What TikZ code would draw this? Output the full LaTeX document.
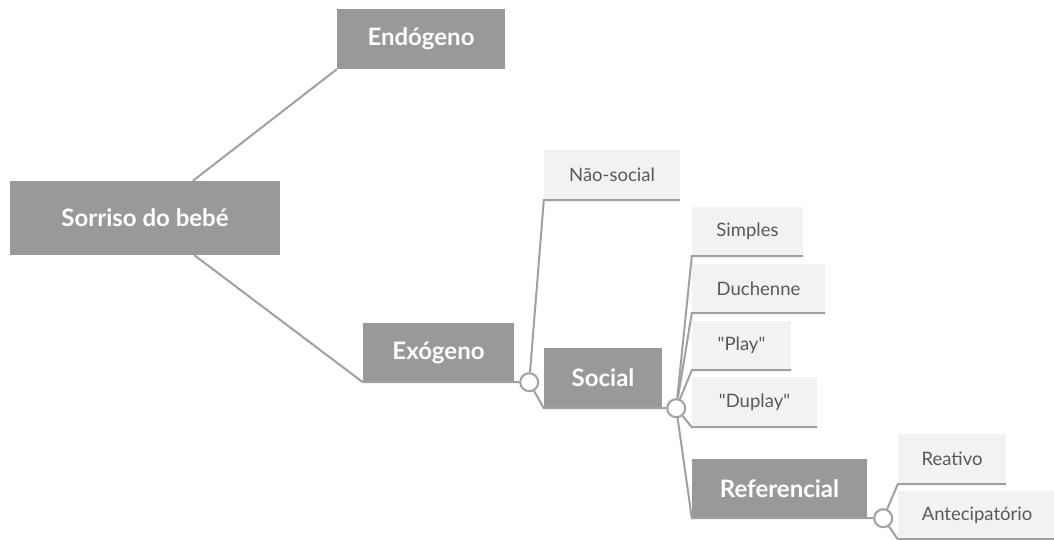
\documentclass[tikz,border=0pt]{standalone}
\usepackage{fontspec}
\setmainfont{Lato}
\usetikzlibrary{positioning}
\definecolor{boxgray}{HTML}{999999}
\definecolor{boxlight}{HTML}{F2F2F2}
\definecolor{linegray}{HTML}{A0A0A0}
\definecolor{textgray}{HTML}{595959}
\tikzset{
  darkbox/.style={fill=boxgray, text=white, inner sep=0pt, font=\fontsize{24}{28}\selectfont\bfseries},
  lightbox/.style={fill=boxlight, text=textgray, inner sep=0pt, font=\fontsize{18.5}{22}\selectfont},
  link/.style={draw=linegray, line width=2pt},
  hub/.style={circle, draw=linegray, fill=white, line width=2pt, inner sep=0pt, minimum size=18pt}
}

\begin{document}
\begin{tikzpicture}[x=1pt, y=-1pt]
      \useasboundingbox (0,0) rectangle (1054,539);

      \node[darkbox, minimum width=270pt, minimum height=74pt] (root) at (145,218) {Sorriso do bebé};
      \node[darkbox, minimum width=168pt, minimum height=60pt] (endo) at (421,39) {Endógeno};
      \node[darkbox, minimum width=151pt, minimum height=59pt] (exo) at (438.5,352.5) {Exógeno};
      \node[lightbox, minimum width=136pt, minimum height=50pt] (naosocial) at (612,175) {Não-social};
      \node[darkbox, minimum width=118pt, minimum height=60pt] (social) at (603,378) {Social};
      \node[lightbox, minimum width=111pt, minimum height=49pt] (simples) at (747.5,231.5) {Simples};
      \node[lightbox, minimum width=133pt, minimum height=49pt] (duchenne) at (758.5,288.5) {Duchenne};
      \node[lightbox, minimum width=99pt, minimum height=49pt] (play) at (741.5,345.5) {\textquotedbl Play\textquotedbl};
      \node[lightbox, minimum width=125pt, minimum height=50pt] (duplay) at (754.5,402) {\textquotedbl Duplay\textquotedbl};
      \node[darkbox, minimum width=175pt, minimum height=59pt] (refer) at (779.5,488.5) {Referencial};
      \node[lightbox, minimum width=108pt, minimum height=50pt] (reativo) at (952,459) {Reativo};
      \node[lightbox, minimum width=158pt, minimum height=48pt] (antecip) at (977,515) {Antecipatório};

      \node[hub, right=5pt of exo.south east] (hubexo) {};
      \node[hub, right=4pt of social.south east] (hubsocial) {};
      \node[hub, right=6pt of refer.south east] (hubrefer) {};

      \draw[link] (root) -- (endo.south west);
      \draw[link] (root) -- (exo.south west) -- (hubexo);
      \draw[link] (hubexo) -- (naosocial.south west) -- (naosocial.south east);
      \draw[link] (hubexo) -- (social.south west) -- (hubsocial);
      \draw[link] (hubsocial) -- (simples.south west) -- (simples.south east);
      \draw[link] (hubsocial) -- (duchenne.south west) -- (duchenne.south east);
      \draw[link] (hubsocial) -- (play.south west) -- (play.south east);
      \draw[link] (hubsocial) -- (duplay.south west) -- (duplay.south east);
      \draw[link] (hubsocial) -- (refer.south west) -- (hubrefer);
      \draw[link] (hubrefer) -- (reativo.south west) -- (reativo.south east);
      \draw[link] (hubrefer) -- (antecip.south west) -- (antecip.south east);
    \end{tikzpicture}
\end{document}
